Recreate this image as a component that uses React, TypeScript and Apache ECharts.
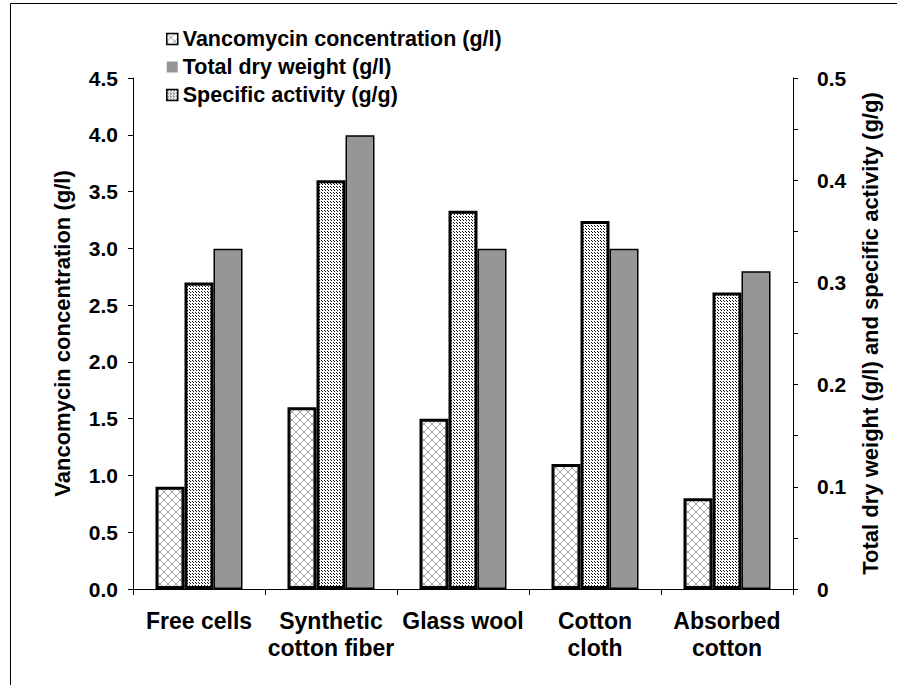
import React, { useEffect, useRef } from 'react';
import * as echarts from 'echarts';

const categories = ['Free cells', 'Synthetic\ncotton fiber', 'Glass wool', 'Cotton\ncloth', 'Absorbed\ncotton'];
const vancomycin = [0.9, 1.6, 1.5, 1.1, 0.8];
const specificActivity = [0.3, 0.4, 0.37, 0.36, 0.29];
const totalDryWeight = [0.333, 0.444, 0.333, 0.333, 0.311];
const seriesNames = ['Vancomycin concentration (g/l)', 'Total dry weight (g/l)', 'Specific activity (g/g)'];
const leftAxisName = 'Vancomycin concentration (g/l)';
const rightAxisName = 'Total dry weight (g/l) and specific activity (g/g)';

const FONT = '"Liberation Sans", Arial, sans-serif';

function makePattern(size: number, isDark: (x: number, y: number) => boolean, color: string) {
  const c = document.createElement('canvas');
  c.width = size;
  c.height = size;
  const ctx = c.getContext('2d')!;
  ctx.fillStyle = '#ffffff';
  ctx.fillRect(0, 0, size, size);
  ctx.fillStyle = color;
  for (let y = 0; y < size; y++) {
    for (let x = 0; x < size; x++) {
      if (isDark(x, y)) ctx.fillRect(x, y, 1, 1);
    }
  }
  return { image: c.toDataURL(), repeat: 'repeat', imageWidth: size, imageHeight: size } as any;
}

export default function App() {
  const ref = useRef<HTMLDivElement>(null);
  useEffect(() => {
    if (!ref.current) return;
    const chart = echarts.init(ref.current, undefined, { renderer: 'svg' });
    const latticePattern = makePattern(8, (x, y) => x === y || x === 7 - y, '#a0a0a0');
    const dotPattern = makePattern(6, (x, y) => ((x - y + 6) % 3) === 0 && !(x === 2 || x === 5), '#111111');

    const option: any = {
      animation: false,
      backgroundColor: '#ffffff',
      textStyle: { fontFamily: FONT },
      grid: { left: 133, right: 104, top: 78, bottom: 96 },
      legend: {
        orient: 'vertical',
        left: 166,
        top: 28,
        padding: 0,
        itemWidth: 11,
        itemHeight: 11,
        itemGap: 6,
        icon: 'rect',
        textStyle: { fontFamily: FONT, fontWeight: 'bold', fontSize: 21.5, color: '#000', lineHeight: 22, padding: [0, 0, 0, 0] },
        data: [
          { name: seriesNames[0], itemStyle: { borderWidth: 1.5, borderColor: '#000' } },
          { name: seriesNames[1], itemStyle: { borderWidth: 0 } },
          { name: seriesNames[2], itemStyle: { borderWidth: 1.5, borderColor: '#000' } },
        ],
      },
      xAxis: {
        type: 'category',
        data: categories,
        axisLine: { show: true, lineStyle: { color: '#000', width: 1 } },
        axisTick: { show: true, length: 6, lineStyle: { color: '#000' } },
        axisLabel: { fontFamily: FONT, fontWeight: 'bold', fontSize: 23, lineHeight: 27, color: '#000', margin: 18, interval: 0 },
        splitLine: { show: false },
      },
      yAxis: [
        {
          type: 'value',
          min: 0,
          max: 4.5,
          interval: 0.5,
          position: 'left',
          name: leftAxisName,
          nameLocation: 'middle',
          nameGap: 60,
          nameRotate: 90,
          nameTextStyle: { fontFamily: FONT, fontWeight: 'bold', fontSize: 22, color: '#000' },
          axisLine: { show: true, lineStyle: { color: '#000', width: 1 } },
          axisTick: { show: true, length: 5, lineStyle: { color: '#000' } },
          axisLabel: { fontFamily: FONT, fontWeight: 'bold', fontSize: 21, color: '#000', margin: 15, formatter: (v: number) => v.toFixed(1) },
          splitLine: { show: false },
        },
        {
          type: 'value',
          min: 0,
          max: 0.5,
          interval: 0.05,
          position: 'right',
          name: rightAxisName,
          nameLocation: 'middle',
          nameGap: 66,
          nameRotate: 90,
          nameTextStyle: { fontFamily: FONT, fontWeight: 'bold', fontSize: 22, color: '#000' },
          axisLine: { show: true, lineStyle: { color: '#000', width: 1 } },
          axisTick: { show: true, length: 5, lineStyle: { color: '#000' } },
          axisLabel: {
            fontFamily: FONT, fontWeight: 'bold', fontSize: 21, color: '#000', margin: 24,
            formatter: (v: number) => {
              const k = Math.round(v * 20);
              if (k % 2 !== 0) return '';
              return k === 0 ? '0' : (k / 20).toFixed(1);
            },
          },
          splitLine: { show: false },
        },
      ],
      series: [
        {
          name: seriesNames[0],
          type: 'bar',
          yAxisIndex: 0,
          data: vancomycin,
          barWidth: 29,
          barGap: '0%',
          itemStyle: { color: latticePattern, borderColor: '#000', borderWidth: 3 },
        },
        {
          name: seriesNames[2],
          type: 'bar',
          yAxisIndex: 1,
          data: specificActivity,
          barWidth: 29,
          barGap: '0%',
          itemStyle: { color: dotPattern, borderColor: '#000', borderWidth: 3 },
        },
        {
          name: seriesNames[1],
          type: 'bar',
          yAxisIndex: 1,
          data: totalDryWeight,
          barWidth: 29,
          barGap: '0%',
          itemStyle: { color: '#969696', borderColor: '#000', borderWidth: 1.5 },
        },
      ],
      graphic: [
        { type: 'line', shape: { x1: 10.5, y1: 3.5, x2: 10.5, y2: 685 }, style: { stroke: '#000', lineWidth: 1 }, silent: true },
        { type: 'line', shape: { x1: 10.5, y1: 3.5, x2: 897, y2: 3.5 }, style: { stroke: '#000', lineWidth: 1 }, silent: true },
      ],
    };
    chart.setOption(option);
    return () => chart.dispose();
  }, []);
  return <div ref={ref} style={{ position: 'fixed', left: 0, top: 0, width: 897, height: 685 }} />;
}
